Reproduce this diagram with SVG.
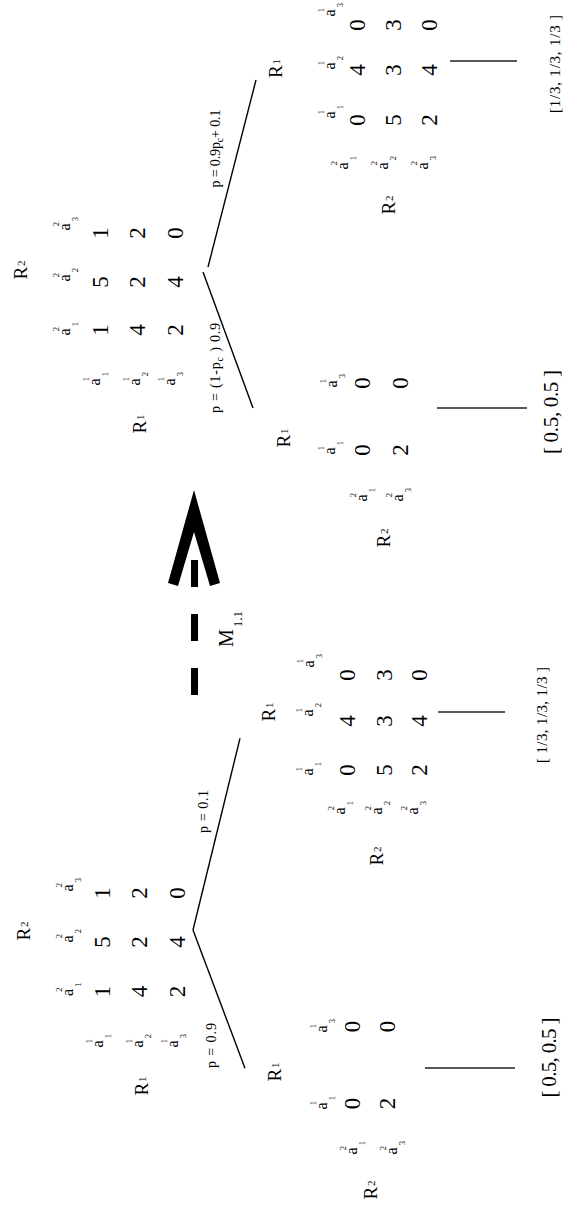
<svg xmlns="http://www.w3.org/2000/svg" width="571" height="1205" viewBox="0 0 571 1205">
<style>
text{font-family:"Liberation Serif","Times New Roman",serif;fill:#000;text-anchor:middle}
.r{font-size:19px}
.ri{font-size:11px}
.d{font-size:23px}
.a{font-size:16px}
.s{font-size:8.5px}
.p{font-size:14px}
.pc{font-size:10px}
.v1{font-size:21px}
.v2{font-size:15px}
.m{font-size:20px;text-anchor:start}
.ms{font-size:13px}
.ln{stroke:#000;stroke-width:1.4;fill:none}
.ul{stroke:#222;stroke-width:1.3;fill:none}
</style>
<rect width="571" height="1205" fill="#fff"/>
<g transform="translate(0,1205) rotate(-90)">
<g id="connectors">
<line class="ln" x1="275" y1="193" x2="136.7" y2="245"/>
<line class="ln" x1="275" y1="193" x2="466.7" y2="240"/>
<line class="ln" x1="933" y1="203" x2="797" y2="253"/>
<line class="ln" x1="938" y1="208" x2="1125" y2="256"/>
<text class="p" x="159.5" y="216" textLength="45" lengthAdjust="spacing" font-size="15">p = 0.9</text>
<text class="p" x="393.5" y="208" textLength="43" lengthAdjust="spacing" font-size="15">p = 0.1</text>
<text class="p" x="837" y="220" textLength="90" lengthAdjust="spacing">p = (1-p<tspan class="pc" dy="3">c</tspan><tspan dy="-3"> ) 0.9</tspan></text>
<text class="p" x="1056.5" y="220" textLength="78" lengthAdjust="spacing">p = 0.9p<tspan class="pc" dy="3">c</tspan><tspan dy="-3">+ 0.1</tspan></text>
</g>
<g id="g1-root">
<text class="r" x="274" y="30">R<tspan class="ri" dx="1" dy="-2">2</tspan></text>
<text class="a" x="212.5" y="73">a</text><text class="s" x="215.5" y="62">2</text><text class="s" x="220.5" y="81">1</text>
<text class="a" x="266" y="73">a</text><text class="s" x="269" y="62">2</text><text class="s" x="274" y="81">2</text>
<text class="a" x="317" y="73">a</text><text class="s" x="320" y="62">2</text><text class="s" x="325" y="81">3</text>
<text class="a" x="161" y="103">a</text><text class="s" x="164" y="92">1</text><text class="s" x="169" y="111">1</text>
<text class="a" x="161" y="143">a</text><text class="s" x="164" y="132">1</text><text class="s" x="169" y="151">2</text>
<text class="a" x="161" y="178">a</text><text class="s" x="164" y="167">1</text><text class="s" x="169" y="186">3</text>
<text class="d" x="213.5" y="110">1</text><text class="d" x="263" y="110">5</text><text class="d" x="312" y="110">1</text>
<text class="d" x="213.5" y="147">4</text><text class="d" x="263" y="147">2</text><text class="d" x="312" y="147">2</text>
<text class="d" x="213.5" y="185">2</text><text class="d" x="263" y="185">4</text><text class="d" x="312" y="185">0</text>
<text class="r" x="119" y="148">R<tspan class="ri" dx="1" dy="-2">1</tspan></text>
</g>
<g id="g1-left">
<text class="r" x="133" y="281">R<tspan class="ri" dx="1" dy="-2">1</tspan></text>
<text class="a" x="99" y="327">a</text><text class="s" x="102" y="316">1</text><text class="s" x="107" y="335">1</text>
<text class="a" x="176" y="327">a</text><text class="s" x="179" y="316">1</text><text class="s" x="184" y="335">3</text>
<text class="a" x="54" y="357">a</text><text class="s" x="57" y="346">2</text><text class="s" x="62" y="365">1</text>
<text class="a" x="54" y="397">a</text><text class="s" x="57" y="386">2</text><text class="s" x="62" y="405">3</text>
<text class="d" x="101.5" y="360">0</text><text class="d" x="178.5" y="360">0</text>
<text class="d" x="101.5" y="395">2</text><text class="d" x="178.5" y="395">0</text>
<text class="r" x="15" y="377">R<tspan class="ri" dx="1" dy="-2">2</tspan></text>
<line class="ul" x1="137" y1="425" x2="137" y2="515"/>
<text class="v1" x="147.5" y="556" textLength="80" lengthAdjust="spacing">[ 0.5, 0.5 ]</text>
</g>
<g id="g1-right">
<text class="r" x="493" y="275">R<tspan class="ri" dx="1" dy="-2">1</tspan></text>
<text class="a" x="433" y="313">a</text><text class="s" x="436" y="302">1</text><text class="s" x="441" y="321">1</text>
<text class="a" x="492" y="313">a</text><text class="s" x="495" y="302">1</text><text class="s" x="500" y="321">2</text>
<text class="a" x="541" y="314">a</text><text class="s" x="544" y="303">1</text><text class="s" x="549" y="322">3</text>
<text class="a" x="394" y="345">a</text><text class="s" x="397" y="334">2</text><text class="s" x="402" y="353">1</text>
<text class="a" x="394" y="382">a</text><text class="s" x="397" y="371">2</text><text class="s" x="402" y="390">2</text>
<text class="a" x="394" y="418">a</text><text class="s" x="397" y="407">2</text><text class="s" x="402" y="426">3</text>
<text class="d" x="435" y="355">0</text><text class="d" x="484" y="355">4</text><text class="d" x="530" y="355">0</text>
<text class="d" x="435" y="392">5</text><text class="d" x="484" y="392">3</text><text class="d" x="530" y="392">3</text>
<text class="d" x="435" y="427">2</text><text class="d" x="484" y="427">4</text><text class="d" x="530" y="427">0</text>
<text class="r" x="349" y="383">R<tspan class="ri" dx="1" dy="-2">2</tspan></text>
<line class="ul" x1="493" y1="438" x2="493" y2="505"/>
<text class="v2" x="490" y="547" textLength="96" lengthAdjust="spacing">[ 1/3, 1/3, 1/3 ]</text>
</g>
<g id="g2-root">
<text class="r" x="935" y="27">R<tspan class="ri" dx="1" dy="-2">2</tspan></text>
<text class="a" x="873" y="70">a</text><text class="s" x="876" y="59">2</text><text class="s" x="881" y="78">1</text>
<text class="a" x="927" y="70">a</text><text class="s" x="930" y="59">2</text><text class="s" x="935" y="78">2</text>
<text class="a" x="978" y="70">a</text><text class="s" x="981" y="59">2</text><text class="s" x="986" y="78">3</text>
<text class="a" x="823" y="100">a</text><text class="s" x="826" y="89">1</text><text class="s" x="831" y="108">1</text>
<text class="a" x="823" y="140">a</text><text class="s" x="826" y="129">1</text><text class="s" x="831" y="148">2</text>
<text class="a" x="823" y="175">a</text><text class="s" x="826" y="164">1</text><text class="s" x="831" y="183">3</text>
<text class="d" x="875" y="108">1</text><text class="d" x="923" y="108">5</text><text class="d" x="972" y="108">1</text>
<text class="d" x="875" y="145">4</text><text class="d" x="923" y="145">2</text><text class="d" x="972" y="145">2</text>
<text class="d" x="875" y="183">2</text><text class="d" x="923" y="183">4</text><text class="d" x="972" y="183">0</text>
<text class="r" x="781" y="146">R<tspan class="ri" dx="1" dy="-2">1</tspan></text>
</g>
<g id="g2-left">
<text class="r" x="767" y="290">R<tspan class="ri" dx="1" dy="-2">1</tspan></text>
<text class="a" x="754" y="335">a</text><text class="s" x="757" y="324">1</text><text class="s" x="762" y="343">1</text>
<text class="a" x="821" y="337">a</text><text class="s" x="824" y="326">1</text><text class="s" x="829" y="345">3</text>
<text class="a" x="707" y="367">a</text><text class="s" x="710" y="356">2</text><text class="s" x="715" y="375">1</text>
<text class="a" x="707" y="403">a</text><text class="s" x="710" y="392">2</text><text class="s" x="715" y="411">3</text>
<text class="d" x="755" y="370">0</text><text class="d" x="822" y="370">0</text>
<text class="d" x="755" y="408">2</text><text class="d" x="822" y="408">0</text>
<text class="r" x="667" y="390">R<tspan class="ri" dx="1" dy="-2">2</tspan></text>
<line class="ul" x1="797" y1="437" x2="797" y2="527"/>
<text class="v1" x="793" y="558" textLength="84" lengthAdjust="spacing">[ 0.5, 0.5 ]</text>
</g>
<g id="g2-right">
<text class="r" x="1136.5" y="282">R<tspan class="ri" dx="1" dy="-2">1</tspan></text>
<text class="a" x="1090" y="335">a</text><text class="s" x="1093" y="324">1</text><text class="s" x="1098" y="343">1</text>
<text class="a" x="1139" y="335">a</text><text class="s" x="1142" y="324">1</text><text class="s" x="1147" y="343">2</text>
<text class="a" x="1192" y="335">a</text><text class="s" x="1195" y="324">1</text><text class="s" x="1200" y="343">3</text>
<text class="a" x="1039" y="348">a</text><text class="s" x="1042" y="337">2</text><text class="s" x="1047" y="356">1</text>
<text class="a" x="1039" y="388">a</text><text class="s" x="1042" y="377">2</text><text class="s" x="1047" y="396">2</text>
<text class="a" x="1039" y="428">a</text><text class="s" x="1042" y="417">2</text><text class="s" x="1047" y="436">3</text>
<text class="d" x="1085" y="365">0</text><text class="d" x="1135" y="365">4</text><text class="d" x="1180" y="365">0</text>
<text class="d" x="1085" y="401">5</text><text class="d" x="1135" y="401">3</text><text class="d" x="1180" y="401">3</text>
<text class="d" x="1085" y="437">2</text><text class="d" x="1135" y="437">4</text><text class="d" x="1180" y="437">0</text>
<text class="r" x="1000" y="395">R<tspan class="ri" dx="1" dy="-2">2</tspan></text>
<line class="ul" x1="1144" y1="450" x2="1144" y2="517"/>
<text class="v2" x="1141" y="560" textLength="98" lengthAdjust="spacing">[1/3, 1/3, 1/3 ]</text>
</g>
<g id="transition-label">
<text class="m" x="558" y="233">M<tspan class="ms" dx="2" dy="9">1.1</tspan></text>
</g>
</g>
<g id="transition-arrow">
<polygon points="194,490 220,583 210,586 194,532 178,586 168,583" fill="#000"/>
<line x1="194.5" y1="560" x2="194.5" y2="695" stroke="#000" stroke-width="7" stroke-dasharray="27 27"/>
</g>
</svg>
